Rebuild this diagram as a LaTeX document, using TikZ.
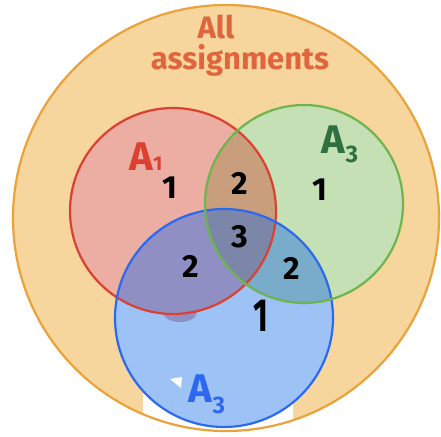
\documentclass[tikz,border=0pt]{standalone}
\usepackage{fontspec}
\setmainfont{Fira Sans}
\definecolor{outfill}{HTML}{F6D69C}
\definecolor{outline}{HTML}{EBA23A}
\definecolor{redfill}{HTML}{ECADA3}
\definecolor{redline}{HTML}{DB4030}
\definecolor{grnfill}{HTML}{C4E0B4}
\definecolor{grnline}{HTML}{70B450}
\definecolor{blufill}{HTML}{9DC2F6}
\definecolor{bluline}{HTML}{2D69F0}
\definecolor{rgcol}{HTML}{C89E7D}
\definecolor{rbcol}{HTML}{8F8FC3}
\definecolor{gbcol}{HTML}{78ACCA}
\definecolor{rgbcol}{HTML}{7B86A8}
\definecolor{titlecol}{HTML}{E0643E}
\definecolor{grntext}{HTML}{2E7040}
\tikzset{
  ring/.style={line width=2.2pt},
  numlabel/.style={font=\fontsize{32}{32}\selectfont\bfseries, text=black, inner sep=0pt},
  setlabel/.style={font=\fontsize{40}{40}\selectfont\bfseries, inner sep=0pt, anchor=base},
  titlelabel/.style={font=\fontsize{31}{31}\selectfont\bfseries, text=titlecol, inner sep=0pt, anchor=base}
}
\begin{document}
\begin{tikzpicture}[x=1pt,y=-1pt]
\useasboundingbox (0,0) rectangle (441,436);
\def\Red{(173,211) circle (103pt)}
\def\Grn{(304,204) circle (99pt)}
\def\Blu{(224,318) circle (109pt)}
% universe fill
\fill[outfill] (226,218) circle (213pt);
\fill[white, rounded corners=14pt] (143,372) rectangle (293,445);
% base set fills
\fill[redfill] \Red;
\fill[grnfill] \Grn;
\fill[blufill] \Blu;
% overlaps
\begin{scope}
  \clip \Red;
  \fill[rgcol] \Grn;
  \fill[rbcol] \Blu;
\end{scope}
\begin{scope}
  \clip \Grn;
  \fill[gbcol] \Blu;
\end{scope}
\begin{scope}
  \clip \Red;
  \clip \Grn;
  \fill[rgbcol] \Blu;
\end{scope}
% purple bleed below A1
\begin{scope}
  \clip \Blu;
  \fill[rbcol] (180,312) ellipse (17pt and 10pt);
\end{scope}
% small white mark
\fill[white] (170,379) -- (182,377) -- (181,388) -- cycle;
% outlines
\draw[ring, outline] (226,218) circle (213pt);
\draw[ring, redline] \Red;
\draw[ring, bluline] \Blu;
\draw[ring, grnline] \Grn;
% title
\node[titlelabel] (tall) at (216,39) {All};
\node[titlelabel] (tassign) at (240,69) {assignments};
% set labels
\node[setlabel, text=redline] (la1) at (146,170) {A\raisebox{0pt}{\fontsize{20}{20}\selectfont 1}};
\node[setlabel, text=grntext] (la2) at (340,153) {A\raisebox{-9pt}{\fontsize{24}{24}\selectfont 3}};
\node[setlabel, text=bluline] (la3) at (207,402) {A\raisebox{-11pt}{\fontsize{24}{24}\selectfont 3}};
% numbers
\node[numlabel] (n1) at (170,188) {1};
\node[numlabel] (n2) at (240,183) {2};
\node[numlabel] (n3) at (320,190) {1};
\node[numlabel] (n4) at (240,237) {3};
\node[numlabel] (n5) at (191,266) {2};
\node[numlabel] (n6) at (292,268) {2};
\node[numlabel] (n7) at (261,316) {\scalebox{1}[1.45]{1}};
\end{tikzpicture}
\end{document}
